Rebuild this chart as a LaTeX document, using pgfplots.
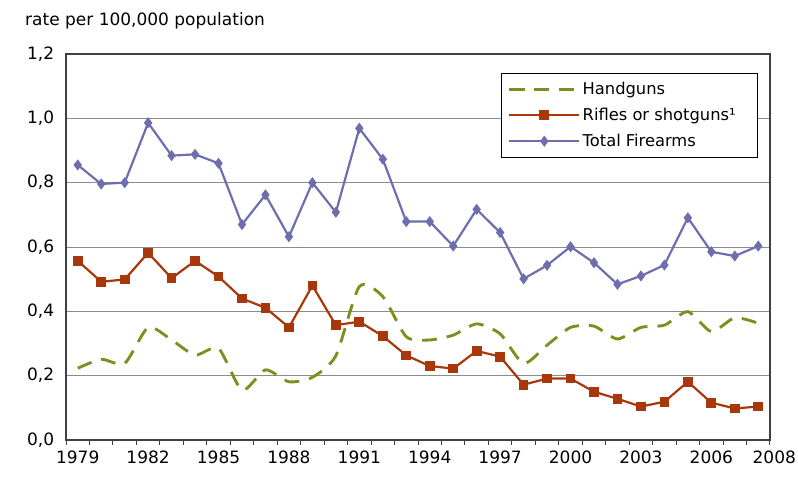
\documentclass[border=0pt]{standalone}
\usepackage{pgfplots}
\pgfplotsset{compat=1.18}
\usepackage{fontspec}
\setmainfont{DejaVu Sans}

\definecolor{hand}{HTML}{7F8F1F}
\definecolor{rifle}{HTML}{A8380C}
\definecolor{total}{HTML}{6E6EAE}
\definecolor{gridc}{HTML}{8C8C8C}
\definecolor{framec}{HTML}{404040}

% rates per 100,000 population
\pgfplotstableread{
year hand rifle total
1979 0.223 0.557 0.855
1980 0.251 0.492 0.796
1981 0.238 0.499 0.800
1982 0.350 0.582 0.986
1983 0.311 0.503 0.884
1984 0.264 0.557 0.888
1985 0.285 0.508 0.860
1986 0.155 0.440 0.670
1987 0.218 0.411 0.762
1988 0.181 0.350 0.632
1989 0.195 0.480 0.800
1990 0.262 0.357 0.708
1991 0.477 0.368 0.969
1992 0.446 0.323 0.873
1993 0.321 0.263 0.679
1994 0.311 0.230 0.679
1995 0.326 0.222 0.603
1996 0.361 0.277 0.717
1997 0.330 0.259 0.645
1998 0.238 0.172 0.501
1999 0.295 0.191 0.543
2000 0.350 0.191 0.601
2001 0.354 0.150 0.551
2002 0.314 0.128 0.484
2003 0.350 0.104 0.510
2004 0.357 0.119 0.544
2005 0.399 0.181 0.691
2006 0.337 0.116 0.585
2007 0.380 0.098 0.572
2008 0.363 0.104 0.603
}\datatable

\begin{document}
\fontsize{17bp}{20bp}\selectfont
\begin{tikzpicture}
\useasboundingbox (0,0) rectangle (798bp,478bp);
\node[anchor=west, inner sep=0pt] at (25bp,457bp) {rate per 100,000 population};
\begin{axis}[
  at={(66bp,38bp)}, anchor=south west,
  scale only axis, width=704bp, height=386bp,
  xmin=1978.5, xmax=2008.5, ymin=0, ymax=1.2,
  axis line style={framec, line width=1.2pt},
  font=\fontsize{17bp}{20bp}\selectfont,
  /pgf/number format/assume math mode=true,
  ytick={0,0.2,...,1.2},
  y tick label style={/pgf/number format/use comma, /pgf/number format/fixed,
    /pgf/number format/fixed zerofill, /pgf/number format/precision=1, xshift=-6bp},
  ytick style={draw=none},
  ymajorgrids, major grid style={gridc, line width=0.9pt},
  xtick={1979,1982,...,2006},
  xticklabels={1979,1982,1985,1988,1991,1994,1997,2000,2003,2006},
  extra x ticks={2008},
  extra x tick labels={2008},
  extra x tick style={grid=none, major tick length=0pt, xticklabel style={xshift=16bp}},
  major tick length=0pt,
  minor xtick={1978.5,1979.5,...,2008.5},
  minor tick length=5bp,
  tick align=outside, xtick pos=bottom, ytick pos=left,
  minor tick style={framec, line width=0.9pt},
  x tick label style={yshift=-5bp},
  legend style={at={(axis description cs:1,1)}, xshift=-12bp, yshift=-19bp,
    anchor=north east, draw=black, line width=0.8pt, inner xsep=6bp, inner ysep=6.5bp,
    font=\fontsize{16.3bp}{19bp}\selectfont, row sep=7bp,
    cells={anchor=west}},
  legend image code/.code={
    \draw[mark repeat=2, mark phase=2, #1] plot coordinates {(0bp,0bp) (35bp,0bp) (70bp,0bp)};
  },
  legend cell align=left,
]
\addplot[hand, line width=2.9pt, dash pattern=on 15bp off 10bp, smooth, tension=0.4]
  table[x=year, y=hand] {\datatable};
\addlegendentry{Handguns}
\addplot[rifle, line width=2.2pt, mark=square*, mark size=3.8bp, mark options={solid}]
  table[x=year, y=rifle] {\datatable};
\addlegendentry{Rifles or shotguns¹\kern14bp}
\addplot[total, line width=2.2pt, mark=diamond*, mark size=3.8bp, mark options={solid}]
  table[x=year, y=total] {\datatable};
\addlegendentry{Total Firearms}
\end{axis}
\end{tikzpicture}
\end{document}
